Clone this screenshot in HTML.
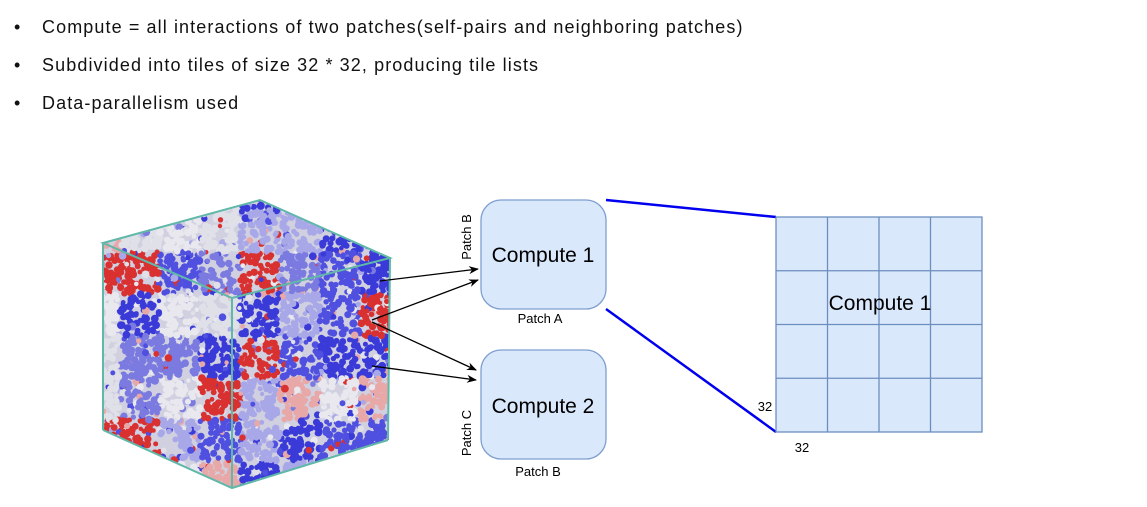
<!DOCTYPE html>
<html><head><style>
body{margin:0;width:1147px;height:507px;background:#fff;overflow:hidden;font-family:"Liberation Sans",sans-serif;}
.b{position:absolute;left:14px;font-size:18px;color:#111;}
.b span{position:absolute;left:28px;white-space:nowrap;letter-spacing:1.1px;}
</style></head><body>
<div class="b" style="top:17px">•<span>Compute = all interactions of two patches(self-pairs and neighboring patches)</span></div>
<div class="b" style="top:55px">•<span>Subdivided into tiles of size 32 * 32, producing tile lists</span></div>
<div class="b" style="top:93px">•<span>Data-parallelism used</span></div>
<svg id="s" width="1147" height="507" style="position:absolute;left:0;top:0" font-family="Liberation Sans, sans-serif">
<defs>
<clipPath id="cube"><polygon points="103,243 260,200 390,258 388,440 232,488 103,430"/></clipPath>
<marker id="a" markerWidth="10" markerHeight="8" refX="9" refY="4" orient="auto" markerUnits="userSpaceOnUse"><path d="M0,0 L10,4 L0,8 L3,4z" fill="#000"/></marker>
</defs>
<g id="dots" clip-path="url(#cube)"><rect x="100" y="198" width="292" height="292" fill="#d0d0e0"/></g>
<g fill="none" stroke="#5fb8a8" stroke-width="2">
<polygon points="103,243 260,200 390,258 232,298"/>
<line x1="232" y1="298" x2="232" y2="488"/>
<line x1="103" y1="243" x2="103" y2="430"/>
<line x1="390" y1="258" x2="388" y2="440"/>
<polyline points="103,430 232,488 388,440"/>
</g>
<g stroke="#000" stroke-width="1.3" marker-end="url(#a)">
<line x1="380" y1="281" x2="478" y2="269"/>
<line x1="372" y1="320" x2="478" y2="280"/>
<line x1="372" y1="322" x2="476" y2="370"/>
<line x1="372" y1="366" x2="476" y2="380"/>
</g>
<rect x="481" y="200" width="125" height="109" rx="20" fill="#dae8fc" stroke="#7e9fcf" stroke-width="1.3"/>
<rect x="481" y="350" width="125" height="109" rx="20" fill="#dae8fc" stroke="#7e9fcf" stroke-width="1.3"/>
<text x="543" y="262" font-size="21" text-anchor="middle">Compute 1</text>
<text x="543" y="413" font-size="21" text-anchor="middle">Compute 2</text>
<text x="540" y="323" font-size="13" text-anchor="middle">Patch A</text>
<text x="538" y="476" font-size="13" text-anchor="middle">Patch B</text>
<text transform="translate(471,237) rotate(-90)" font-size="13" text-anchor="middle">Patch B</text>
<text transform="translate(471,433) rotate(-90)" font-size="13" text-anchor="middle">Patch C</text>
<line x1="606" y1="200" x2="776" y2="217" stroke="#0000ee" stroke-width="2.5"/>
<line x1="606" y1="309" x2="776" y2="432" stroke="#0000ee" stroke-width="2.5"/>
<rect x="776" y="217" width="206" height="215" fill="#dae8fc" stroke="#6c8ebf" stroke-width="1.3"/>
<g stroke="#6c8ebf" stroke-width="1.3">
<line x1="827.5" y1="217" x2="827.5" y2="432"/><line x1="879" y1="217" x2="879" y2="432"/><line x1="930.5" y1="217" x2="930.5" y2="432"/>
<line x1="776" y1="270.75" x2="982" y2="270.75"/><line x1="776" y1="324.5" x2="982" y2="324.5"/><line x1="776" y1="378.25" x2="982" y2="378.25"/>
</g>
<text x="880" y="310" font-size="21" text-anchor="middle">Compute 1</text>
<text x="765" y="411" font-size="13" text-anchor="middle">32</text>
<text x="802" y="452" font-size="13" text-anchor="middle">32</text>
</svg>
<script>
(function(){
var g=document.getElementById('dots');var s=12345;function r(){s=(s*16807)%2147483647;return s/2147483647;}
var cols=['#d93030','#3a3ad8','#e8e8ee','#7a7ae0','#e8a8a8','#a8a8e8','#e0e0e8','#5050e0'];
var blk={};
function colFor(x,y){var k=Math.floor(x/40)+'_'+Math.floor(y/42);if(!(k in blk))blk[k]=cols[Math.floor(r()*cols.length)];return blk[k];}
var ns='http://www.w3.org/2000/svg';
for(var i=0;i<4200;i++){var x=100+r()*292,y=198+r()*292;var c=document.createElementNS(ns,'circle');
c.setAttribute('cx',x.toFixed(1));c.setAttribute('cy',y.toFixed(1));c.setAttribute('r',(2.2+r()*1.8).toFixed(1));
c.setAttribute('fill',r()<0.88?colFor(x,y):cols[Math.floor(r()*cols.length)]);g.appendChild(c);}
})();
</script>
</body></html>
